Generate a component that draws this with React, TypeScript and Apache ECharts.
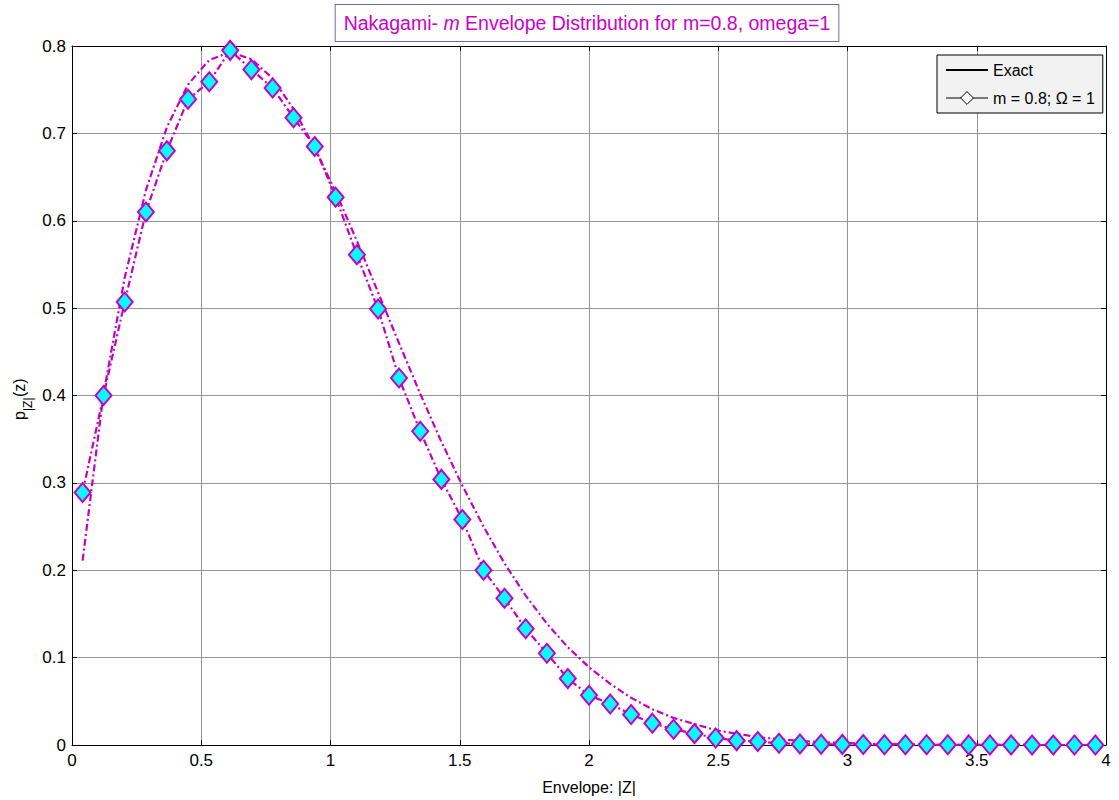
import React, { useEffect, useRef } from "react";
import * as echarts from "echarts";

// Bin centres on the envelope axis
const envelopeX = [
  0.041, 0.122, 0.204, 0.286, 0.367, 0.449, 0.531, 0.612, 0.694, 0.776,
  0.857, 0.939, 1.020, 1.102, 1.184, 1.265, 1.347, 1.429, 1.510, 1.592,
  1.673, 1.755, 1.837, 1.918, 2.000, 2.082, 2.163, 2.245, 2.327, 2.408,
  2.490, 2.571, 2.653, 2.735, 2.816, 2.898, 2.980, 3.061, 3.143, 3.224,
  3.306, 3.388, 3.469, 3.551, 3.633, 3.714, 3.796, 3.878, 3.959,
];

// Smooth dash-dot curve (no markers)
const exactPdf = [
  0.211, 0.402, 0.535, 0.635, 0.707, 0.756, 0.784, 0.793, 0.785, 0.763,
  0.728, 0.683, 0.633, 0.577, 0.518, 0.460, 0.402, 0.347, 0.297, 0.250,
  0.208, 0.171, 0.139, 0.112, 0.089, 0.070, 0.054, 0.041, 0.031, 0.024,
  0.017, 0.013, 0.009, 0.0066, 0.0047, 0.0033, 0.0023, 0.0016, 0.0011, 0.0007,
  0.0005, 0.0003, 0.0002, 0.0001, 0.0001, 0.0001, 0, 0, 0,
];

// Diamond-marker curve
const simPdf = [
  0.289, 0.400, 0.507, 0.610, 0.680, 0.739, 0.759, 0.795, 0.773, 0.752,
  0.718, 0.685, 0.627, 0.561, 0.499, 0.420, 0.359, 0.304, 0.258, 0.200,
  0.168, 0.133, 0.105, 0.076, 0.057, 0.047, 0.035, 0.025, 0.018, 0.013,
  0.008, 0.005, 0.004, 0.002, 0.0012, 0.0008, 0.0007, 0.0005, 0.0004, 0.0003,
  0.0002, 0.0002, 0.0001, 0.0001, 0.0001, 0, 0, 0, 0,
];

const seriesNames = ["Exact", "m = 0.8; Ω = 1"];
const titleParts = ["Nakagami- ", "m", " Envelope Distribution for m=0.8, omega=1"];
const xAxisTitle = "Envelope: |Z|";

const FONT = "'Liberation Sans', Arial, Helvetica, sans-serif";
const MAGENTA = "#c400c4";
const DASHDOT = [7, 3, 2, 3];

export default function App() {
  const ref = useRef<HTMLDivElement>(null);

  useEffect(() => {
    if (!ref.current) return;
    const chart = echarts.init(ref.current, null, { renderer: "svg" });

    const exactData = envelopeX.map((x, i) => [x, exactPdf[i]]);
    const simData = envelopeX.map((x, i) => [x, simPdf[i]]);

    const axisCommon = {
      type: "value",
      axisLine: { show: true, onZero: false, lineStyle: { color: "#000", width: 1 } },
      axisTick: { show: true, inside: true, length: 5, lineStyle: { color: "#000", width: 1 } },
    };

    const option: any = {
      animation: false,
      backgroundColor: "#ffffff",
      grid: { left: 72, right: 13, top: 46, bottom: 55, containLabel: false, outerBoundsMode: "none" },
      xAxis: [
        {
          ...axisCommon,
          position: "bottom",
          min: 0,
          max: 4,
          interval: 0.5,
          axisLabel: { color: "#000", fontSize: 17, fontFamily: FONT, margin: 7 },
          splitLine: { show: true, lineStyle: { color: "#959595", width: 1 } },
          name: xAxisTitle,
          nameLocation: "middle",
          nameGap: 34,
          nameTextStyle: { color: "#000", fontSize: 16, fontFamily: FONT },
        },
        {
          ...axisCommon,
          position: "top",
          min: 0,
          max: 4,
          interval: 0.5,
          axisLabel: { show: false },
          splitLine: { show: false },
        },
      ],
      yAxis: [
        {
          ...axisCommon,
          position: "left",
          min: 0,
          max: 0.8,
          interval: 0.1,
          axisLabel: { color: "#000", fontSize: 17, fontFamily: FONT, margin: 6 },
          splitLine: { show: true, lineStyle: { color: "#959595", width: 1 } },
        },
        {
          ...axisCommon,
          position: "right",
          min: 0,
          max: 0.8,
          interval: 0.1,
          axisLabel: { show: false },
          splitLine: { show: false },
        },
      ],
      legend: {
        orient: "vertical",
        left: 937,
        top: 55,
        backgroundColor: "#f2f2f2",
        borderColor: "#000",
        borderWidth: 1,
        borderRadius: 0,
        padding: [7, 8, 7, 8],
        itemWidth: 42,
        itemHeight: 16,
        itemGap: 12,
        textStyle: { color: "#000", fontSize: 16, fontFamily: FONT },
        data: [
          {
            name: seriesNames[0],
            itemStyle: { color: "rgba(0,0,0,0)", borderWidth: 0, opacity: 0 },
            lineStyle: { color: "#000", type: "solid", width: 2 },
          },
          {
            name: seriesNames[1],
            itemStyle: { color: "#ffffff", borderColor: "#000", borderWidth: 1 },
            lineStyle: { color: "#000", type: "solid", width: 1 },
          },
        ],
      },
      graphic: [
        {
          type: "text",
          x: 587,
          y: 23,
          z: 100,
          style: {
            text: `{a|${titleParts[0]}}{i|${titleParts[1]}}{a|${titleParts[2]}}`,
            rich: {
              a: { fontSize: 19.5, fontFamily: FONT, fill: "#cc00cc", color: "#cc00cc" },
              i: { fontSize: 19.5, fontFamily: FONT, fontStyle: "italic", fill: "#cc00cc", color: "#cc00cc" },
            },
            align: "center",
            verticalAlign: "middle",
            backgroundColor: "#ffffff",
            borderColor: "#6b6bb0",
            borderWidth: 1,
            padding: [8, 8, 8, 8],
          },
        },
        {
          type: "group",
          x: 19,
          y: 396,
          rotation: Math.PI / 2,
          children: [
            {
              type: "text",
              x: -24,
              y: 0,
              style: { text: "p", fontSize: 16, fontFamily: FONT, fill: "#000", align: "left", verticalAlign: "middle" },
            },
            {
              type: "text",
              x: -15,
              y: 9,
              style: { text: "|Z|", fontSize: 12, fontFamily: FONT, fill: "#000", align: "left", verticalAlign: "middle" },
            },
            {
              type: "text",
              x: -1,
              y: 0,
              style: { text: "(z)", fontSize: 16, fontFamily: FONT, fill: "#000", align: "left", verticalAlign: "middle" },
            },
          ],
        },
      ],
      series: [
        {
          name: seriesNames[0],
          type: "line",
          data: exactData,
          symbol: "none",
          smooth: false,
          lineStyle: { color: MAGENTA, width: 2.2, type: DASHDOT },
          itemStyle: { color: MAGENTA },
          z: 2,
        },
        {
          name: seriesNames[1],
          type: "line",
          data: simData,
          symbol: "diamond",
          symbolSize: [16, 19],
          showAllSymbol: true,
          lineStyle: { color: MAGENTA, width: 2.2, type: DASHDOT },
          itemStyle: { color: "#00ffff", borderColor: MAGENTA, borderWidth: 2 },
          z: 3,
        },
      ],
    };

    chart.setOption(option);
    return () => chart.dispose();
  }, []);

  return (
    <div
      ref={ref}
      style={{ position: "fixed", left: 0, top: 0, width: 1119, height: 800, background: "#fff" }}
    />
  );
}
